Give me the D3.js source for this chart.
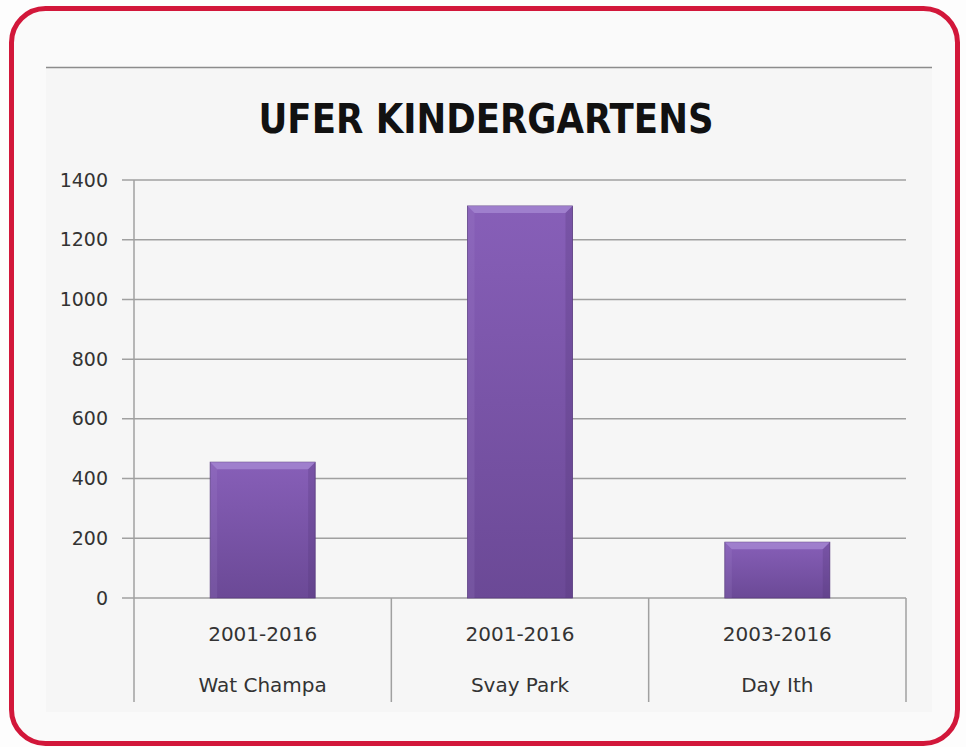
<!DOCTYPE html>
<html>
  <head>
    <title>UFER Kindergartens</title>
    <script src="https://d3js.org/d3.v7.min.js"></script>
    <style>
      body { margin: 0; background: #fdfdfd; }
      text { font-family: "DejaVu Sans", Verdana, sans-serif; fill: #333; }
    </style>
  </head>
  <body>
    <svg width="966" height="747"></svg>
    <script>
      // chart data
      var schools = ["Wat Champa", "Svay Park", "Day Ith"];
      var periods = ["2001-2016", "2001-2016", "2003-2016"];
      var children = [455, 1313, 187];
      var yTicks = [0, 200, 400, 600, 800, 1000, 1200, 1400];

      var svg = d3.select("svg");

      // red rounded frame
      svg.append("rect")
        .attr("x", 11.5).attr("y", 8.5)
        .attr("width", 946).attr("height", 735)
        .attr("rx", 34)
        .style("fill", "#fafafa")
        .style("stroke", "#d2173a")
        .style("stroke-width", 5);

      // chart panel
      svg.append("rect")
        .attr("x", 46).attr("y", 67)
        .attr("width", 886).attr("height", 645)
        .style("fill", "#f6f6f6");
      svg.append("line")
        .attr("x1", 46).attr("x2", 932).attr("y1", 67.5).attr("y2", 67.5)
        .style("stroke", "#8c8c8c").style("stroke-width", 1.5);

      svg.append("text")
        .attr("x", 486).attr("y", 133)
        .attr("text-anchor", "middle")
        .style("font-family", "'DejaVu Sans Condensed', 'DejaVu Sans', sans-serif")
        .style("font-size", "40px")
        .style("font-weight", "bold")
        .style("fill", "#111")
        .attr("textLength", 455)
        .attr("lengthAdjust", "spacingAndGlyphs")
        .text("UFER KINDERGARTENS");

      var plotL = 134, plotR = 906, plotT = 180, plotB = 598;

      var x = d3.scaleBand().domain(schools).range([plotL, plotR]);
      var y = d3.scaleLinear().domain([0, 1400]).range([plotB, plotT]);

      // gridlines
      svg.append("g").selectAll("line")
        .data(yTicks)
        .enter().append("line")
        .attr("x1", plotL - 12).attr("x2", plotR)
        .attr("y1", function (d) { return y(d); })
        .attr("y2", function (d) { return y(d); })
        .style("stroke", "#a0a0a0").style("stroke-width", 1.5);

      // y axis labels
      var yAxis = d3.axisLeft(y).tickValues(yTicks).tickFormat(d3.format("d"))
        .tickSize(0).tickPadding(26);
      var ga = svg.append("g").attr("transform", "translate(" + plotL + ",0)").call(yAxis);
      ga.select(".domain").remove();
      ga.selectAll("text")
        .style("font-size", "19px")
        .style("fill", "#333")
        .style("font-family", "DejaVu Sans, Verdana, sans-serif");

      // vertical axis and category separators
      var seps = schools.map(function (s) { return x(s); }).concat([plotR]);
      svg.append("line")
        .attr("x1", plotL).attr("x2", plotL).attr("y1", plotT).attr("y2", plotB)
        .style("stroke", "#a0a0a0").style("stroke-width", 1.5);
      svg.append("g").selectAll("line")
        .data(seps)
        .enter().append("line")
        .attr("x1", function (d) { return d; })
        .attr("x2", function (d) { return d; })
        .attr("y1", plotB).attr("y2", 702)
        .style("stroke", "#a0a0a0").style("stroke-width", 1.5);

      // bar gradient
      var defs = svg.append("defs");
      var grad = defs.append("linearGradient")
        .attr("id", "barGrad").attr("x1", 0).attr("x2", 0).attr("y1", 0).attr("y2", 1);
      grad.append("stop").attr("offset", "0%").attr("stop-color", "#875fb8");
      grad.append("stop").attr("offset", "100%").attr("stop-color", "#6b4996");

      var barW = 105;
      var bars = svg.append("g").selectAll("g")
        .data(schools)
        .enter().append("g")
        .attr("transform", function (d) {
          return "translate(" + (x(d) + x.bandwidth() / 2 - barW / 2) + ",0)";
        });

      bars.each(function (d, i) {
        var g = d3.select(this);
        var y0 = y(children[i]), b = 7;
        g.append("rect")
          .attr("x", 0).attr("y", y0).attr("width", barW).attr("height", plotB - y0)
          .style("fill", "url(#barGrad)")
          .style("stroke", "#5a3d80").style("stroke-width", 0.8);
        // bevel: light top, darker right side, lighter left side
        g.append("polygon")
          .attr("points", [[0, y0], [barW, y0], [barW - b, y0 + b], [b, y0 + b]].join(" "))
          .style("fill", "#a587d2").style("opacity", 0.8);
        g.append("polygon")
          .attr("points", [[barW, y0], [barW, plotB], [barW - b, plotB], [barW - b, y0 + b]].join(" "))
          .style("fill", "#4e3272").style("opacity", 0.25);
        g.append("polygon")
          .attr("points", [[0, y0], [b, y0 + b], [b, plotB], [0, plotB]].join(" "))
          .style("fill", "#b094d8").style("opacity", 0.15);
      });

      // category labels
      var lab = svg.append("g").selectAll("g")
        .data(schools)
        .enter().append("g");
      lab.append("text")
        .attr("x", function (d) { return x(d) + x.bandwidth() / 2; })
        .attr("y", 641)
        .attr("text-anchor", "middle")
        .style("font-size", "20px")
        .text(function (d, i) { return periods[i]; });
      lab.append("text")
        .attr("x", function (d) { return x(d) + x.bandwidth() / 2; })
        .attr("y", 692)
        .attr("text-anchor", "middle")
        .style("font-size", "20px")
        .text(function (d) { return d; });
    </script>
  </body>
</html>
